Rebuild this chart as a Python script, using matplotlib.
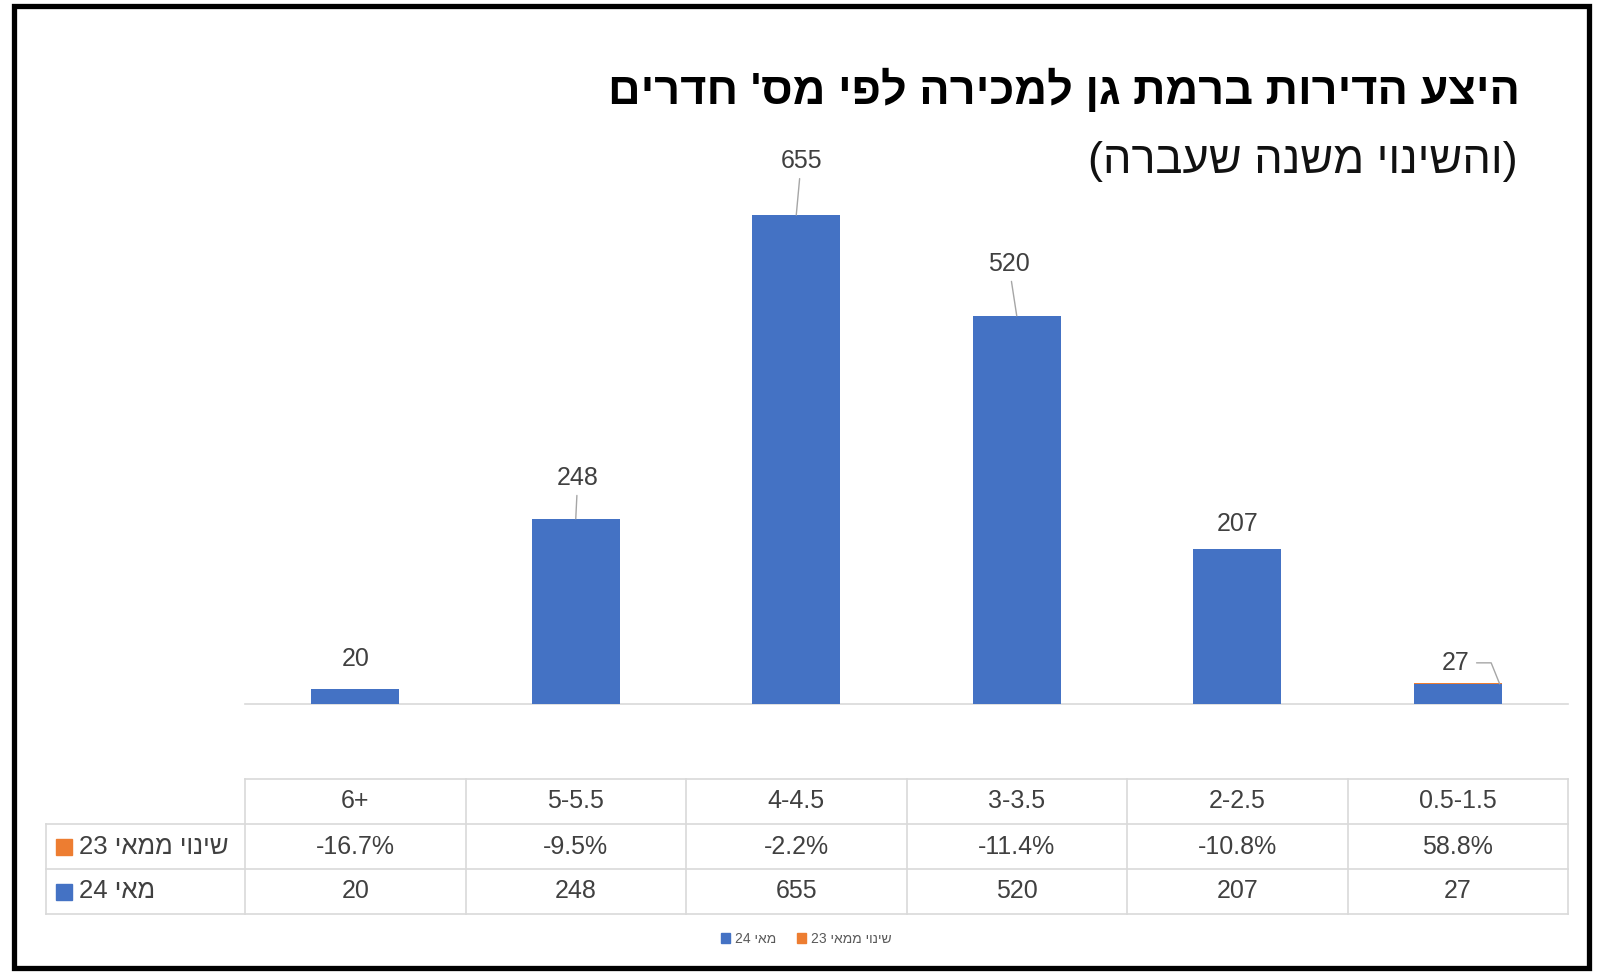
import re
import numpy as np
import matplotlib
matplotlib.use("Agg")
import matplotlib.pyplot as plt
from matplotlib.patches import Rectangle, Patch

plt.rcParams['font.family'] = ['Liberation Sans Narrow', 'Liberation Sans', 'DejaVu Sans']


def heb(s):
    # visual order for hebrew text, digit runs stay left-to-right
    parts = re.findall(r"[0-9.,%+\-]+|[^0-9.,%+\-]+", s)
    out = []
    for p in reversed(parts):
        if re.match(r"[0-9]", p):
            out.append(p)
        else:
            out.append(p[::-1])
    return "".join(out)


# data (logical order, first category is drawn on the right)
rooms = ["0.5-1.5", "2-2.5", "3-3.5", "4-4.5", "5-5.5", "6+"]
may24 = [27, 207, 520, 655, 248, 20]
change = [58.8, -10.8, -11.4, -2.2, -9.5, -16.7]

name_may24 = "מאי 24"
name_change = "שינוי ממאי 23"
title = "היצע הדירות ברמת גן למכירה לפי מס' חדרים"
subtitle = "והשינוי משנה שעברה"

blue = "#4472C4"
orange = "#ED7D31"
grid = "#D9D9D9"
txt = "#404040"

# label offsets in pixels (dx, dy) and whether a leader line is drawn
lab_off = [(-2, 21, True), (0, 25, False), (-8, 52, True),
           (5, 54, True), (2, 41, True), (0, 30, False)]

fig = plt.figure(figsize=(16, 9.74), dpi=100)
W, H = 1600, 974

x = np.arange(len(rooms))
ax = fig.add_axes([245 / W, 270 / H, 1323 / W, 522.5 / H])
ax.bar(x, may24, width=0.4, color=blue, zorder=2)
chg = np.array(change) / 100
ax.bar(x, chg, width=0.4, bottom=np.where(chg > 0, may24, 0), color=orange, zorder=2)
ax.set_xlim(5.5, -0.5)
ax.set_ylim(0, 700)
ax.axis("off")
ax.plot([-0.5, 5.5], [0, 0], color=grid, lw=1.2, zorder=1, clip_on=False)

for i, v in enumerate(may24):
    dx, dy, lead = lab_off[i]
    if i == 0:
        # leader goes to the right part of the small bar, with a bend
        sh = 0.19
        ax.annotate(str(v), xy=(i - sh, v), xytext=(dx - sh * 220.5, dy),
                    textcoords="offset pixels", ha="center", va="center",
                    fontsize=18, color=txt, annotation_clip=False,
                    arrowprops=dict(arrowstyle="-", color="#A6A6A6", lw=1, shrinkA=3, shrinkB=0,
                                    connectionstyle="angle,angleA=0,angleB=112,rad=0"))
        continue
    ap = dict(arrowstyle="-", color="#A6A6A6", lw=1, shrinkA=2, shrinkB=0) if lead else None
    ax.annotate(str(v), xy=(i, v), xytext=(dx, dy),
                textcoords="offset pixels", ha="center", va="center",
                fontsize=18, color=txt, arrowprops=ap, annotation_clip=False)

# data table
tab = fig.add_axes([245 / W, 60 / H, 1323 / W, 135 / H])
tab.set_xlim(5.5, -0.5)
tab.set_ylim(3, 0)
tab.axis("off")
lab_w = 199 / 220.5
xl = 5.5 + lab_w
tab.plot([-0.5, 5.5], [0, 0], color=grid, lw=1.2, clip_on=False)
for yy in [1, 2, 3]:
    tab.plot([-0.5, xl], [yy, yy], color=grid, lw=1.2, clip_on=False)
for xx in np.arange(-0.5, 5.6, 1):
    tab.plot([xx, xx], [0, 3], color=grid, lw=1.2, clip_on=False)
tab.plot([xl, xl], [1, 3], color=grid, lw=1.2, clip_on=False)

for i in range(len(rooms)):
    tab.text(i, 0.5, rooms[i], ha="center", va="center", fontsize=18, color=txt)
    tab.text(i, 1.5, f"{change[i]:.1f}%", ha="center", va="center", fontsize=18, color=txt)
    tab.text(i, 2.5, str(may24[i]), ha="center", va="center", fontsize=18, color=txt)

for row, name, col in [(1.5, name_change, orange), (2.5, name_may24, blue)]:
    tab.plot([xl - 0.08], [row], marker="s", ms=12, color=col, clip_on=False)
    tab.text(xl - 0.15, row, heb(name), ha="left", va="center", fontsize=18.5, color=txt)

# legend
handles = [Patch(color=blue, label=heb(name_may24)), Patch(color=orange, label=heb(name_change))]
fig.legend(handles=handles, loc="center", bbox_to_anchor=(806 / W, 35 / H), ncol=2,
           frameon=False, fontsize=10, labelcolor="#595959", handlelength=0.7,
           handleheight=0.7, handletextpad=0.3, columnspacing=1.5)

# titles
fig.text(1520 / W, (H - 91) / H, heb(title), ha="right", va="center",
         fontsize=32.5, fontweight="bold", color="black")
fig.text(1518 / W, (H - 162) / H, "(" + subtitle[::-1] + ")", ha="right", va="center",
         fontsize=32.5, color="#111111")

# frame around the picture
fig.patches.append(Rectangle((14 / W, 6 / H), 1575 / W, 962 / H, transform=fig.transFigure,
                             fill=False, edgecolor="black", lw=3.8))

fig.savefig("out.png", dpi=100)
